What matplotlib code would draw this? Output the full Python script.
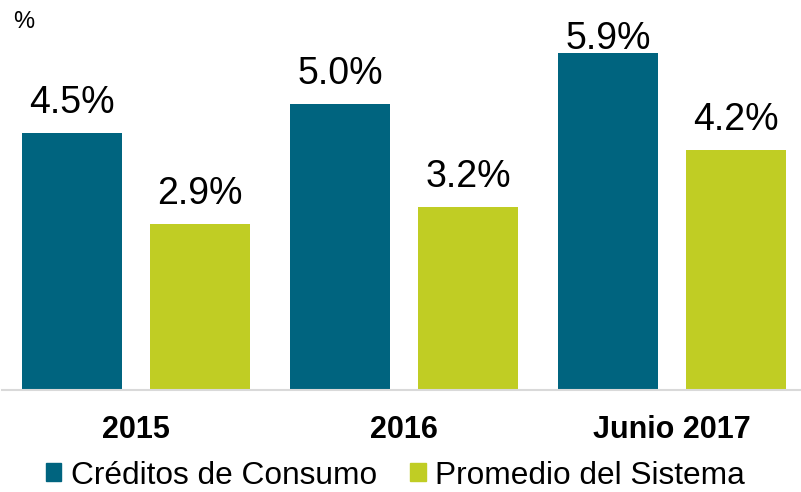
import matplotlib
matplotlib.use("Agg")
import matplotlib.pyplot as plt
from matplotlib.patches import Patch
import numpy as np

plt.rcParams['font.family'] = ['Liberation Sans', 'DejaVu Sans']

categories = ['2015', '2016', 'Junio 2017']
consumo = [4.5, 5.0, 5.9]
sistema = [2.9, 3.2, 4.2]
series_names = ['Créditos de Consumo', 'Promedio del Sistema']

blue = '#00647F'
green = '#C0CD24'

fig = plt.figure(figsize=(8.01, 4.92), dpi=100)
ax = fig.add_axes([2 / 801, 102.5 / 492, 799 / 801, 389.5 / 492])

x = np.arange(len(categories))
w = 0.373
off = 0.239
b1 = ax.bar(x - off, consumo, w, color=blue)
b2 = ax.bar(x + off, sistema, w, color=green)

ymax = 6.83
for bars, vals in ((b1, consumo), (b2, sistema)):
    for bar, v in zip(bars, vals):
        # labels sit above the bars, but the tallest one is squeezed near the top
        ypos = min(v + 0.35, 5.97)
        ax.text(bar.get_x() + bar.get_width() / 2, ypos, f'{v:.1f}%',
                ha='center', va='baseline', fontsize=27)

ax.set_xlim(-0.5, (801 - 136) / 268)
ax.set_ylim(0, ymax)
ax.set_xticks(x)
ax.set_xticklabels(categories, fontsize=22, fontweight='bold')
ax.tick_params(axis='x', length=0, pad=18)
ax.set_yticks([])
for s in ['top', 'right', 'left']:
    ax.spines[s].set_visible(False)
ax.spines['bottom'].set_color('#d9d9d9')
ax.spines['bottom'].set_linewidth(1.5)

fig.text(13 / 801, 1 - 22 / 492, '%', fontsize=17, va='center', ha='left')

handles = [Patch(color=blue), Patch(color=green)]
fig.legend(handles, series_names, loc='center', ncol=2,
           bbox_to_anchor=(395.5 / 801, 1 - 475.5 / 492), frameon=False,
           fontsize=22.8, handlelength=0.48, handleheight=0.48,
           handletextpad=0.3, columnspacing=1.05, borderpad=0)

fig.savefig('out.png', dpi=100)
